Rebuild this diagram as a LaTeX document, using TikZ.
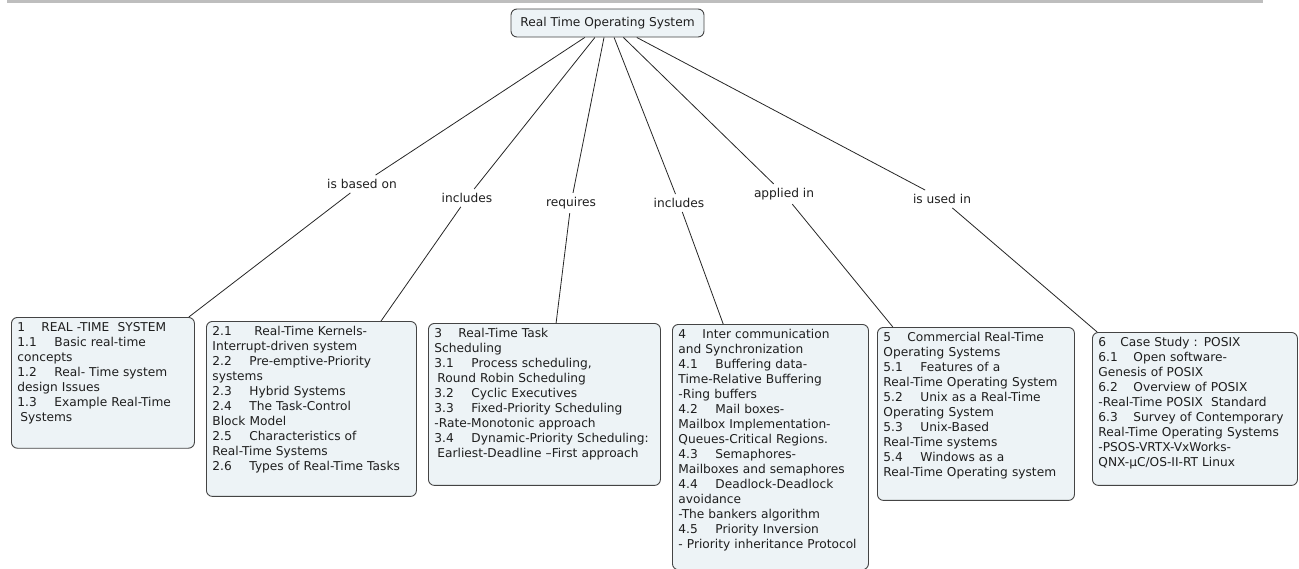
\documentclass[tikz,border=0pt]{standalone}
\usepackage{fontspec}
\setmainfont{DejaVu Sans}
\usepackage{tikz}
\usetikzlibrary{positioning, calc}
\definecolor{boxfill}{RGB}{237,243,246}
\definecolor{boxline}{RGB}{68,68,68}
\definecolor{bargrey}{RGB}{190,190,190}
\definecolor{inkgrey}{RGB}{30,30,30}
\tikzstyle{topic} = [rectangle, draw=boxline, fill=boxfill, rounded corners=6pt,
  line width=0.9pt, inner sep=5pt, text=inkgrey, font=\fontsize{12.2}{14}\selectfont]
\tikzstyle{unit} = [topic, anchor=north west, align=left, inner xsep=6pt,
  inner ysep=5pt, font=\fontsize{12.2}{15}\selectfont]
\tikzstyle{rel} = [inner sep=4pt, text=inkgrey, font=\fontsize{12.2}{14}\selectfont]
\tikzstyle{link} = [line width=0.8pt, draw=black!85]
\newcommand{\unithead}[2]{\makebox[24pt][l]{#1}#2}
\newcommand{\unitsub}[2]{\makebox[37pt][l]{#1}#2}

\begin{document}
\begin{tikzpicture}[x=1pt, y=-1pt]
  \useasboundingbox (0,0) rectangle (1299,568);
  \fill[bargrey] (7,0) rectangle (1263,3);

  \node[topic, minimum width=193pt, minimum height=28pt] (root) at (607.5,23) {Real Time Operating System};

  % relation labels
  \node[rel] (l1) at (362,184) {is based on};
  \node[rel] (l2) at (467,198) {includes};
  \node[rel] (l3) at (571,203) {requires};
  \node[rel] (l4) at (679,203) {includes};
  \node[rel] (l5) at (784,194) {applied in};
  \node[rel] (l6) at (942,199) {is used in};

  % units
  \node[unit, text width=171pt, text depth=111.7pt] (b1) at (11,317) {%
    \unithead{1}{REAL -TIME\ \ SYSTEM}\\
    \unitsub{1.1}{Basic real-time}\\
    concepts\\
    \unitsub{1.2}{Real- Time system}\\
    design Issues\\
    \unitsub{1.3}{Example Real-Time}\\
    \hspace*{3pt}Systems};
  \node[unit, text width=198pt, text depth=155.7pt] (b2) at (206,321) {%
    \unitsub{2.1}{\hspace*{5pt}Real-Time Kernels-}\\
    Interrupt-driven system\\
    \unitsub{2.2}{Pre-emptive-Priority}\\
    systems\\
    \unitsub{2.3}{Hybrid Systems}\\
    \unitsub{2.4}{The Task-Control}\\
    Block Model\\
    \unitsub{2.5}{Characteristics of}\\
    Real-Time Systems\\
    \unitsub{2.6}{Types of Real-Time Tasks}};
  \node[unit, text width=220pt, text depth=142.7pt] (b3) at (428,323) {%
    \unithead{3}{Real-Time Task}\\
    Scheduling\\
    \unitsub{3.1}{Process scheduling,}\\
    \hspace*{3pt}Round Robin Scheduling\\
    \unitsub{3.2}{Cyclic Executives}\\
    \unitsub{3.3}{Fixed-Priority Scheduling}\\
    -Rate-Monotonic approach\\
    \unitsub{3.4}{Dynamic-Priority Scheduling:}\\
    \hspace*{3pt}Earliest-Deadline –First approach};
  \node[unit, text width=184pt, text depth=226pt] (b4) at (672,324) {%
    \unithead{4}{Inter communication}\\
    and Synchronization\\
    \unitsub{4.1}{Buffering data-}\\
    Time-Relative Buffering\\
    -Ring buffers\\
    \unitsub{4.2}{Mail boxes-}\\
    Mailbox Implementation-\\
    Queues-Critical Regions.\\
    \unitsub{4.3}{Semaphores-}\\
    Mailboxes and semaphores\\
    \unitsub{4.4}{Deadlock-Deadlock}\\
    avoidance\\
    -The bankers algorithm\\
    \unitsub{4.5}{Priority Inversion}\\
    - Priority inheritance Protocol};
  \node[unit, text width=185pt, text depth=153.7pt] (b5) at (877,327) {%
    \unithead{5}{Commercial Real-Time}\\
    Operating Systems\\
    \unitsub{5.1}{Features of a}\\
    Real-Time Operating System\\
    \unitsub{5.2}{Unix as a Real-Time}\\
    Operating System\\
    \unitsub{5.3}{Unix-Based}\\
    Real-Time systems\\
    \unitsub{5.4}{Windows as a}\\
    Real-Time Operating system};
  \node[unit, text width=193pt, text depth=133.7pt] (b6) at (1092,332) {%
    \makebox[22pt][l]{6}Case Study : POSIX\\
    \makebox[35pt][l]{6.1}Open software-\\
    Genesis of POSIX\\
    \makebox[35pt][l]{6.2}Overview of POSIX\\
    -Real-Time POSIX\ \ Standard\\
    \makebox[35pt][l]{6.3}Survey of Contemporary\\
    Real-Time Operating Systems\\
    -PSOS-VRTX-VxWorks-\\
    QNX-µC/OS-II-RT Linux};

  % connectors
  \draw[link] ($(root.south west)!0.383!(root.south east)$) -- (l1) -- ($(b1.north west)!0.967!(b1.north east)$);
  \draw[link] ($(root.south west)!0.435!(root.south east)$) -- (l2) -- ($(b2.north west)!0.83!(b2.north east)$);
  \draw[link] ($(root.south west)!0.482!(root.south east)$) -- (l3) -- ($(b3.north west)!0.55!(b3.north east)$);
  \draw[link] ($(root.south west)!0.534!(root.south east)$) -- (l4) -- ($(b4.north west)!0.26!(b4.north east)$);
  \draw[link] ($(root.south west)!0.582!(root.south east)$) -- (l5) -- ($(b5.north west)!0.08!(b5.north east)$);
  \draw[link] ($(root.south west)!0.651!(root.south east)$) -- (l6) -- ($(b6.north west)!0.025!(b6.north east)$);
\end{tikzpicture}
\end{document}
